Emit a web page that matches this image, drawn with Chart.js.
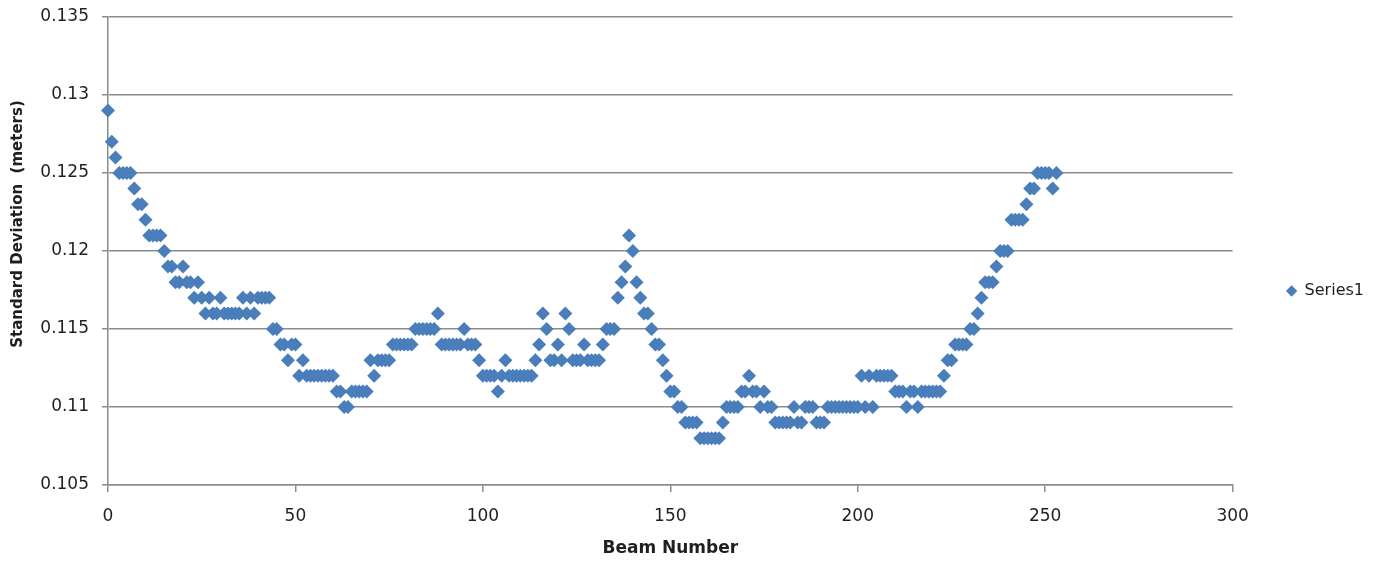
<!DOCTYPE html>
<html>
<head>
<meta charset="utf-8">
<script src="https://cdn.jsdelivr.net/npm/chart.js@4/dist/chart.umd.min.js"></script>
<style>
  html, body { margin: 0; padding: 0; background: #ffffff; }
  #wrap { width: 1384px; height: 565px; }
</style>
</head>
<body>
<div id="wrap"><canvas id="c" width="1384" height="565"></canvas></div>
<script>
const beamNumbers = [
  0,1,2,3,4,5,6,7,8,9,10,11,12,13,14,15,16,17,18,19,20,21,22,23,24,25,26,27,28,29,
  30,31,32,33,34,35,36,37,38,39,40,41,42,43,44,45,46,47,48,49,50,51,52,53,54,55,56,57,58,59,
  60,61,62,63,64,65,66,67,68,69,70,71,72,73,74,75,76,77,78,79,80,81,82,83,84,85,86,87,88,89,
  90,91,92,93,94,95,96,97,98,99,100,101,102,103,104,105,106,107,108,109,110,111,112,113,114,115,116,117,118,119,
  120,121,122,123,124,125,126,127,128,129,130,131,132,133,134,135,136,137,138,139,140,141,142,143,144,145,146,147,148,149,
  150,151,152,153,154,155,156,157,158,159,160,161,162,163,164,165,166,167,168,169,170,171,172,173,174,175,176,177,178,179,
  180,181,182,183,184,185,186,187,188,189,190,191,192,193,194,195,196,197,198,199,200,201,202,203,204,205,206,207,208,209,
  210,211,212,213,214,215,216,217,218,219,220,221,222,223,224,225,226,227,228,229,230,231,232,233,234,235,236,237,238,239,
  240,241,242,243,244,245,246,247,248,249,250,251,252,253
];
const stdDevMeters = [
  0.129,0.127,0.126,0.125,0.125,0.125,0.125,0.124,0.123,0.123,0.122,0.121,0.121,0.121,0.121,0.120,0.119,0.119,0.118,0.118,
  0.119,0.118,0.118,0.117,0.118,0.117,0.116,0.117,0.116,0.116,0.117,0.116,0.116,0.116,0.116,0.116,0.117,0.116,0.117,0.116,
  0.117,0.117,0.117,0.117,0.115,0.115,0.114,0.114,0.113,0.114,0.114,0.112,0.113,0.112,0.112,0.112,0.112,0.112,0.112,0.112,
  0.112,0.111,0.111,0.110,0.110,0.111,0.111,0.111,0.111,0.111,0.113,0.112,0.113,0.113,0.113,0.113,0.114,0.114,0.114,0.114,
  0.114,0.114,0.115,0.115,0.115,0.115,0.115,0.115,0.116,0.114,0.114,0.114,0.114,0.114,0.114,0.115,0.114,0.114,0.114,0.113,
  0.112,0.112,0.112,0.112,0.111,0.112,0.113,0.112,0.112,0.112,0.112,0.112,0.112,0.112,0.113,0.114,0.116,0.115,0.113,0.113,
  0.114,0.113,0.116,0.115,0.113,0.113,0.113,0.114,0.113,0.113,0.113,0.113,0.114,0.115,0.115,0.115,0.117,0.118,0.119,0.121,
  0.120,0.118,0.117,0.116,0.116,0.115,0.114,0.114,0.113,0.112,0.111,0.111,0.110,0.110,0.109,0.109,0.109,0.109,0.108,0.108,
  0.108,0.108,0.108,0.108,0.109,0.110,0.110,0.110,0.110,0.111,0.111,0.112,0.111,0.111,0.110,0.111,0.110,0.110,0.109,0.109,
  0.109,0.109,0.109,0.110,0.109,0.109,0.110,0.110,0.110,0.109,0.109,0.109,0.110,0.110,0.110,0.110,0.110,0.110,0.110,0.110,
  0.110,0.112,0.110,0.112,0.110,0.112,0.112,0.112,0.112,0.112,0.111,0.111,0.111,0.110,0.111,0.111,0.110,0.111,0.111,0.111,
  0.111,0.111,0.111,0.112,0.113,0.113,0.114,0.114,0.114,0.114,0.115,0.115,0.116,0.117,0.118,0.118,0.118,0.119,0.120,0.120,
  0.120,0.122,0.122,0.122,0.122,0.123,0.124,0.124,0.125,0.125,0.125,0.125,0.124,0.125
];
const seriesName = 'Series1';
const xAxisTitle = 'Beam Number';
const yAxisTitle = 'Standard Deviation  (meters)';
const xTicks = { min: 0, max: 300, step: 50 };
const yTicks = { min: 0.105, max: 0.135, step: 0.005 };

const FONT = "'DejaVu Sans', 'Liberation Sans', sans-serif";
const GRID = '#8c8c8c';
const TEXT = '#1f1f1f';
const BLUE = '#4a7ebb';

const yTitlePlugin = {
  id: 'yTitle',
  afterDraw(chart) {
    const ctx = chart.ctx;
    ctx.save();
    ctx.translate(18, 224);
    ctx.rotate(-Math.PI / 2);
    ctx.font = "bold 15px " + FONT;
    ctx.fillStyle = TEXT;
    ctx.textAlign = 'center';
    ctx.textBaseline = 'middle';
    ctx.fillText(yAxisTitle, 0, 0);
    ctx.restore();
  }
};

new Chart(document.getElementById('c'), {
  type: 'line',
  data: {
    labels: beamNumbers,
    datasets: [{
      label: seriesName,
      data: stdDevMeters,
      showLine: false,
      clip: false,
      pointStyle: 'rectRot',
      pointRadius: 7,
      pointHoverRadius: 7,
      pointBackgroundColor: BLUE,
      pointBorderColor: BLUE,
      pointBorderWidth: 0,
      backgroundColor: BLUE,
      borderColor: BLUE
    }]
  },
  options: {
    responsive: false,
    animation: false,
    devicePixelRatio: 1,
    layout: { padding: { top: 17, left: 0, right: 10, bottom: 0 } },
    plugins: {
      tooltip: { enabled: false },
      legend: {
        display: true,
        position: 'right',
        labels: {
          usePointStyle: true,
          pointStyle: 'rectRot',
          boxWidth: 10,
          boxHeight: 8,
          padding: 54,
          color: TEXT,
          font: { family: FONT, size: 16 }
        }
      }
    },
    scales: {
      x: {
        type: 'linear',
        min: xTicks.min,
        max: xTicks.max,
        afterFit(scale) { scale.height = 80; },
        ticks: {
          stepSize: xTicks.step,
          padding: 14,
          color: TEXT,
          font: { family: FONT, size: 17 },
          maxRotation: 0
        },
        grid: { display: true, drawOnChartArea: false, drawTicks: true, tickLength: 7, color: GRID, lineWidth: 1.5 },
        border: { display: true, color: GRID, width: 1.5 },
        title: {
          display: true,
          text: xAxisTitle,
          color: TEXT,
          font: { family: FONT, size: 17, weight: 'bold' },
          padding: { top: 0, bottom: 6 }
        }
      },
      y: {
        type: 'linear',
        min: yTicks.min,
        max: yTicks.max,
        afterFit(scale) { scale.width = 108; scale.paddingTop = 4; scale.paddingBottom = 4; },
        ticks: {
          stepSize: yTicks.step,
          padding: 13,
          color: TEXT,
          font: { family: FONT, size: 17 },
          callback: (v) => String(+v.toFixed(3))
        },
        grid: { display: true, drawOnChartArea: true, drawTicks: true, tickLength: 6, color: GRID, lineWidth: 1.5 },
        border: { display: true, color: GRID, width: 1.5 }
      }
    }
  },
  plugins: [yTitlePlugin]
});
</script>
</body>
</html>
